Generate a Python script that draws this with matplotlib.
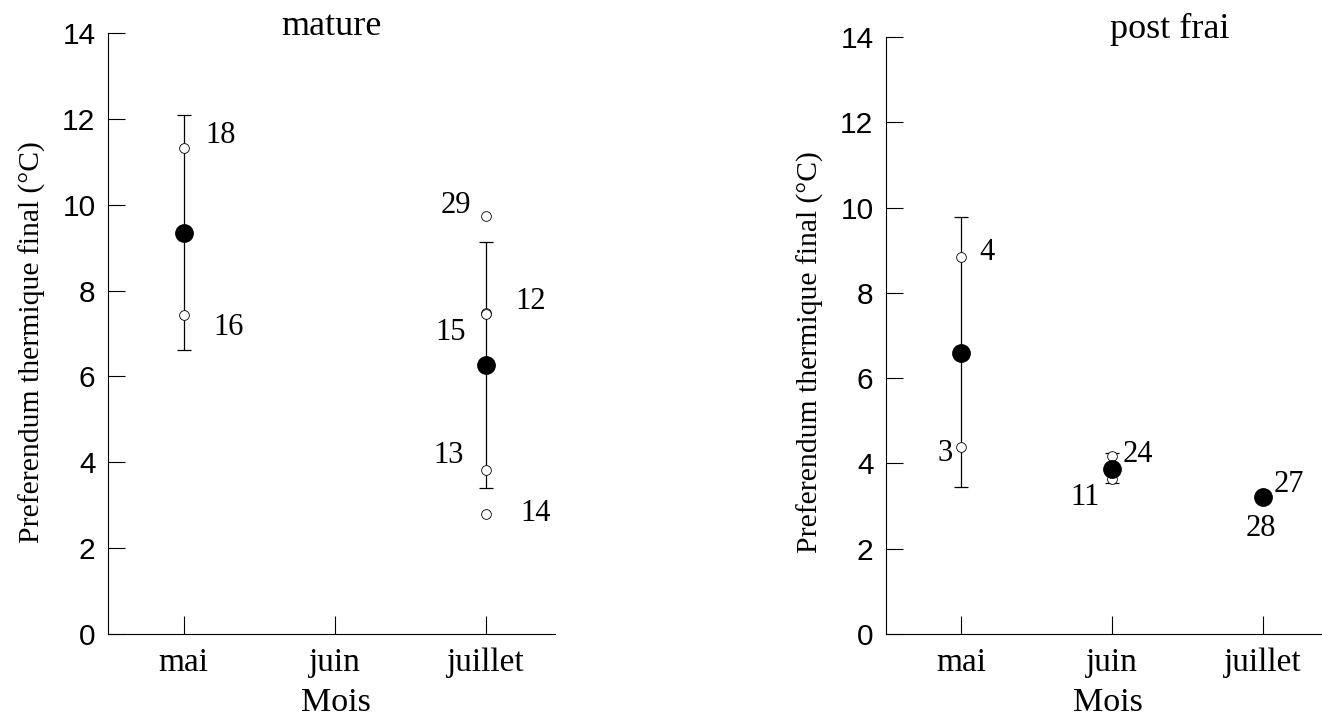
import numpy as np
import matplotlib
matplotlib.use("Agg")
import matplotlib.pyplot as plt

mois = ["mai", "juin", "juillet"]

# mature: moyennes et barres d'erreur (nan = pas de donnees)
mat_moy = [9.35, np.nan, 6.26]
mat_haut = [12.10, np.nan, 9.12]
mat_bas = [6.61, np.nan, 3.39]
# mature: individus (mois index, valeur, numero)
mat_ind_mois = [0, 0, 2, 2, 2, 2, 2]
mat_ind_val = [11.32, 7.43, 9.74, 7.47, 7.45, 3.83, 2.80]
mat_ind_num = ["18", "16", "29", "12", "15", "13", "14"]

# post frai
pf_moy = [6.59, 3.88, 3.22]
pf_haut = [9.78, 4.24, 3.30]
pf_bas = [3.44, 3.55, 3.15]
pf_ind_mois = [0, 0, 1, 1, 2, 2]
pf_ind_val = [8.84, 4.38, 4.17, 3.63, 3.25, 3.20]
pf_ind_num = ["4", "3", "24", "11", "27", "28"]

# label offsets in pixels (dx, dy)
mat_off = [(37, 13), (45, -12), (-30, 10), (45, 12), (-35, -18), (-37, 14), (50, 0)]
pf_off = [(26, 5), (-16, -6), (26, 2), (-27, -18), (26, 11), (-2, -31)]

serif = "Liberation Serif"
sans = "Liberation Sans"

fig = plt.figure(figsize=(13.22, 7.17), dpi=100)
ax1 = fig.add_axes([108/1322, 83/717, 447/1322, 601/717])
ax2 = fig.add_axes([886/1322, 83/717, 436/1322, 597/717])


def panel(ax, moy, haut, bas, im, iv, inum, off, titre, tpos, ylab, xmax, mois_y):
    x = np.arange(len(mois))
    moy = np.array(moy)
    err = [moy - np.array(bas), np.array(haut) - moy]
    ax.errorbar(x, moy, yerr=err, fmt="none", ecolor="black",
                elinewidth=0.9, capsize=5, capthick=0.9, zorder=2)
    ax.plot(im, iv, "o", ms=7, mfc="white", mec="black", mew=0.6,
            linestyle="none", zorder=3)
    ax.plot(x, moy, "o", ms=12.5, color="black", linestyle="none", zorder=4)
    for m, v, n, (dx, dy) in zip(im, iv, inum, off):
        ax.annotate(n, (m, v), xytext=(dx, dy), textcoords="offset pixels",
                    ha="center", va="center", fontsize=22, family=serif)
    ax.set_xlim(-0.5, xmax)
    ax.set_ylim(0, 14)
    ax.set_yticks(range(0, 15, 2))
    ax.set_xticks(x)
    ax.set_xticklabels(mois, family=serif, fontsize=24)
    for lab in ax.get_yticklabels():
        lab.set_family(sans)
        lab.set_fontsize(21.5)
    ax.tick_params(axis="y", direction="in", length=12, width=0.8, pad=9)
    ax.tick_params(axis="x", direction="in", length=13, width=0.8, pad=10)
    ax.spines["top"].set_visible(False)
    ax.spines["right"].set_visible(False)
    ax.spines["left"].set_linewidth(0.8)
    ax.spines["bottom"].set_linewidth(0.8)
    ax.set_ylabel("Preferendum thermique final (°C)", family=serif,
                  fontsize=21.3, va="center")
    ax.yaxis.set_label_coords(ylab[0], ylab[1])
    ax.text(0.51, mois_y, "Mois", transform=ax.transAxes, ha="center",
            va="center", family=serif, fontsize=24.5)
    ax.text(tpos[0], tpos[1], titre, transform=ax.transAxes, ha="center",
            va="center", family=serif, fontsize=26)


panel(ax1, mat_moy, mat_haut, mat_bas, mat_ind_mois, mat_ind_val,
      mat_ind_num, mat_off, "mature", (0.5, 1.01), (-0.17, 0.486), 2.46,
      (634 - 703) / 601)
panel(ax2, pf_moy, pf_haut, pf_bas, pf_ind_mois, pf_ind_val,
      pf_ind_num, pf_off, "post frai", (0.651, 1.012), (-0.174, 0.472), 2.39,
      (634 - 703) / 597)

fig.savefig("out.png", dpi=100)
